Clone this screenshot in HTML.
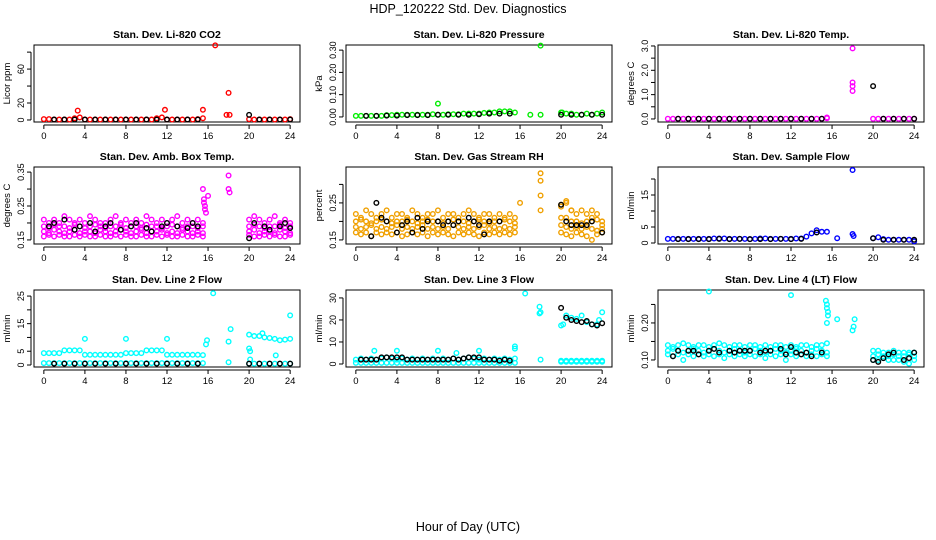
<!DOCTYPE html>
<html><head><meta charset="utf-8">
<style>
body{margin:0;background:#fff}
svg{display:block;font-family:"Liberation Sans",Arial,sans-serif}
</style></head>
<body>
<svg id="c" width="936" height="540">
<text x="468" y="13" text-anchor="middle" font-size="12.5">HDP_120222  Std. Dev. Diagnostics</text>
<text x="468" y="531" text-anchor="middle" font-size="12.5">Hour of Day (UTC)</text>
</svg>
<script>
const hours=[0,0.5,1,1.5,2,2.5,3,3.5,4,4.5,5,5.5,6,6.5,7,7.5,8,8.5,9,9.5,10,10.5,11,11.5,12,12.5,13,13.5,14,14.5,15,15.5,20,20.5,21,21.5,22,22.5,23,23.5,24];
const xTicks=[0,4,8,12,16,20,24];
const blkX=[1,2,3,4,5,6,7,8,9,10,11,12,13,14,15,20,21,22,23,24];

const co2Red=[1,1,.5,.5,.5,.5,2,3,.5,.5,.5,.5,.5,.5,.5,.5,.5,.5,.5,.5,.5,.5,2,3,.5,.5,.5,.5,.5,.5,1,2,1,.5,.5,.5,.5,.5,.5,.5,1];
const co2OutX=[3.3,11.8,15.5,16.7,18,17.8,18.1];
const co2OutY=[11,12,12,88,32,6,6];
const co2Blk=[.5,.5,.5,.5,.5,.5,.5,.5,.5,.5,.5,.5,.5,.5,.5,6,.5,.5,.5,.5];
const presGrn=[.005,.005,.005,.005,.005,.005,.008,.008,.01,.01,.01,.01,.01,.01,.01,.012,.01,.01,.012,.012,.012,.015,.015,.015,.015,.018,.02,.02,.025,.025,.025,.02,.02,.015,.015,.01,.01,.015,.01,.015,.02];
const presOutX=[8,18,17,18,20.1];
const presOutY=[.06,.32,.01,.01,.02];
const presBlk=[.005,.005,.006,.006,.008,.008,.008,.01,.01,.01,.01,.012,.015,.015,.015,.01,.01,.01,.01,.01];
const tmpMag=[.01,.01,.01,.01,.01,.01,.01,.01,.01,.01,.01,.01,.01,.01,.01,.01,.01,.01,.01,.01,.01,.01,.01,.01,.01,.01,.01,.01,.01,.01,.01,.03,.01,.01,.01,.01,.01,.01,.01,.01,.01];
const tmpOutX=[15.5,18,18,18,18];
const tmpOutY=[.06,2.9,1.5,1.35,1.15];
const tmpBlk=[.01,.01,.01,.01,.01,.01,.01,.01,.01,.01,.01,.01,.01,.01,.01,1.35,.01,.01,.01,.01];
const ambC1=[.21,.2,.21,.2,.22,.21,.2,.21,.2,.22,.21,.2,.2,.21,.22,.2,.21,.2,.21,.2,.22,.21,.2,.21,.2,.21,.22,.2,.21,.2,.21,.2,.21,.22,.21,.2,.21,.22,.2,.21,.2];
const ambC2=[.19,.185,.195,.19,.19,.185,.195,.19,.185,.19,.195,.19,.185,.19,.19,.195,.185,.19,.19,.185,.195,.19,.19,.185,.19,.195,.19,.185,.19,.19,.185,.19,.19,.195,.19,.185,.19,.19,.195,.185,.19];
const ambC3=[.175,.17,.18,.175,.17,.175,.18,.17,.175,.175,.17,.18,.175,.17,.175,.18,.175,.17,.175,.18,.17,.175,.175,.18,.17,.175,.17,.18,.175,.17,.175,.17,.175,.18,.17,.175,.175,.17,.18,.175,.17];
const ambC4=[.16,.165,.16,.165,.16,.16,.165,.16,.165,.16,.16,.165,.16,.16,.165,.16,.165,.16,.16,.165,.16,.16,.165,.16,.165,.16,.16,.165,.16,.16,.165,.16,.165,.16,.16,.165,.16,.165,.16,.16,.165];
const ambOutX=[15.5,15.6,15.6,15.7,15.7,15.8,16,18,18,18.1];
const ambOutY=[.3,.27,.26,.25,.24,.23,.28,.34,.30,.29];
const ambBlkX=[0.5,1,2,3,3.5,4.5,5,6,6.5,7.5,8.5,9,10,10.5,11.5,12,13,14,14.5,15,20,20.5,21.5,22,23,23.5,24];
const ambBlkY=[.19,.2,.21,.18,.19,.2,.175,.19,.2,.18,.19,.2,.185,.175,.19,.2,.19,.185,.2,.19,.155,.2,.19,.18,.19,.2,.185];
const rhC1=[.22,.21,.23,.22,.21,.22,.23,.21,.22,.22,.21,.23,.22,.21,.22,.22,.23,.21,.22,.22,.21,.22,.23,.22,.21,.22,.22,.21,.22,.21,.22,.21,.24,.25,.23,.22,.23,.22,.21,.22,.2];
const rhC2=[.2,.205,.2,.195,.2,.205,.2,.195,.2,.2,.205,.2,.195,.2,.205,.2,.2,.195,.2,.205,.2,.2,.195,.2,.205,.2,.195,.2,.2,.205,.2,.195,.21,.21,.2,.2,.195,.2,.2,.205,.19];
const rhC3=[.185,.18,.185,.19,.18,.185,.18,.185,.19,.18,.185,.18,.185,.19,.18,.185,.18,.185,.18,.19,.185,.18,.185,.18,.185,.19,.18,.185,.18,.185,.18,.185,.19,.185,.18,.185,.18,.185,.18,.175,.18];
const rhC4=[.17,.165,.17,.16,.17,.165,.17,.165,.17,.16,.165,.17,.165,.17,.16,.17,.165,.17,.165,.16,.17,.165,.17,.165,.16,.17,.165,.17,.165,.17,.165,.17,.17,.165,.16,.17,.165,.16,.15,.165,.17];
const rhOutX=[16,18,18,18,18,20,20.5,21,23];
const rhOutY=[.25,.33,.31,.27,.23,.245,.255,.23,.23];
const rhBlkX=[1.5,2,2.5,3,4,4.5,5,5.5,6,6.5,7,8,8.5,9,9.5,10,11,11.5,12,12.5,13,14,20,20.5,21,21.5,22,22.5,23,24];
const rhBlkY=[.16,.25,.21,.2,.17,.19,.2,.17,.21,.18,.2,.2,.19,.2,.19,.2,.21,.2,.19,.165,.2,.2,.245,.2,.19,.19,.19,.19,.2,.17];
const sfBlue=[1.3,1.3,1.3,1.3,1.3,1.3,1.3,1.3,1.3,1.4,1.4,1.4,1.3,1.3,1.3,1.3,1.2,1.3,1.4,1.4,1.3,1.3,1.3,1.3,1.3,1.4,1.4,2,3,4,3.5,3.5,1.5,1.8,1.2,1,1,1,1,1,0.5];
const sfOutX=[16.5,18,18,18.1];
const sfOutY=[1.5,22.8,2.8,2.2];
const sfBlkX=[1,2,3,4,5,6,7,8,9,10,11,12,13,14.5,20,21,22,23,24];
const sfBlkY=[1.2,1.2,1.2,1.2,1.3,1.2,1.3,1.2,1.2,1.2,1.3,1.2,1.3,3.3,1.5,1,1,1,1];
const l2Top=[4.3,4.3,4.3,4.3,5.3,5.3,5.3,5.3,3.7,3.7,3.7,3.7,3.7,3.7,3.7,3.7,4.3,4.3,4.3,4.3,5.3,5.3,5.3,5.3,3.7,3.7,3.7,3.7,3.7,3.7,3.7,3.6,11,10.5,10.5,10,9.8,9.5,9,9.2,9.5];
const l2Low=[.7,.7,.7,.7,.7,.7,.7,.7,.7,.7,.7,.7,.7,.7,.7,.7,.7,.7,.7,.7,.7,.7,.7,.7,.7,.7,.7,.7,.7,.7,.7,.7,.5,.5,.5,.5,.5,.5,.5,.5,.5];
const l2OutX=[4,8,12,15.8,15.9,16.5,18,18,18.2,20,20.1,20.1,22.6,24,21.3];
const l2OutY=[9.5,9.5,9.5,7.5,9,26,8.5,1,13,6,5,2,3.5,18,11.5];
const l2Blk=[.5,.5,.5,.5,.5,.5,.5,.5,.5,.5,.5,.5,.5,.5,.5,.5,.5,.5,.5,.5];
const l3Low=[.5,.5,.5,.5,.5,.5,.5,.5,.5,.5,.5,.5,.5,.5,.5,.5,.5,.5,.5,.5,.5,.5,.5,.5,.5,.5,.5,.5,.5,.5,.5,.5,1,1,1,1,1,1,1,1,1];
const l3Mid=[2,2.5,2,2.5,2,2.5,3,2.5,2,2.5,2,2.5,2,2.5,2,2.5,2,2.5,2,2.5,2,2.5,3,2.5,2,2.5,2,2.5,2,2.5,2,2.5,1.5,1.5,1.5,1.5,1.5,1.5,1.5,1.5,1.5];
const l3UpX=[20,20.2,20.5,21,21.5,22,22.5,23,23.5,23.7,24];
const l3UpY=[17.5,18,22,21,20.5,22,19,18,18,20,23.5];
const l3OutX=[1.8,4,8,9.8,12,15.5,15.5,16.5,17.9,17.9,18,18];
const l3OutY=[6,6,6,5,6,8,7,32,26,23,23.5,2];
const l3BlkX=[0.5,1,1.5,2,2.5,3,3.5,4,4.5,5,5.5,6,6.5,7,7.5,8,8.5,9,9.5,10,10.5,11,11.5,12,12.5,13,13.5,14,14.5,15,20,20.5,21,21.5,22,22.5,23,23.5,24];
const l3BlkY=[2,2,2,2,3,3,3,3,3,2,2,2,2,2,2,2,2,2,2.5,2,2.5,3,3,3,2,2,2,1.5,2,1.5,25.5,21,20,19.5,19,19.5,18,17.5,18.5];
const l4C1=[.14,.135,.14,.145,.14,.135,.14,.14,.135,.14,.145,.14,.135,.14,.14,.135,.14,.14,.135,.14,.135,.14,.14,.135,.14,.135,.14,.14,.135,.14,.14,.145,.125,.125,.12,.12,.125,.12,.12,.12,.12];
const l4C2=[.125,.13,.125,.12,.125,.13,.125,.12,.125,.13,.125,.12,.125,.13,.125,.12,.125,.13,.125,.12,.125,.13,.125,.12,.125,.13,.125,.12,.125,.13,.125,.12,.11,.115,.11,.11,.115,.11,.11,.115,.11];
const l4C3=[.115,.11,.115,.1,.115,.11,.115,.11,.115,.11,.115,.105,.115,.11,.115,.11,.115,.11,.115,.105,.115,.11,.115,.1,.115,.11,.115,.11,.115,.11,.115,.11,.1,.1,.105,.1,.1,.1,.095,.09,.1];
const l4OutX=[4,12,15.4,15.5,15.5,15.6,15.6,15.5,16.5,18,18.1,18.2];
const l4OutY=[.285,.275,.26,.25,.24,.23,.22,.2,.21,.18,.19,.21];
const l4BlkX=[0.5,1,2,2.5,3,4,4.5,5,6,6.5,7,7.5,8,9,9.5,10,11,11.5,12,12.5,13,13.5,14,15,20,20.5,21,21.5,22,23,23.5,24];
const l4BlkY=[.11,.125,.125,.125,.115,.125,.13,.12,.125,.12,.125,.125,.125,.12,.125,.125,.13,.115,.135,.12,.115,.12,.11,.12,.1,.095,.105,.115,.12,.1,.105,.12];

const CYAN='#00ffff', MAG='#ff00ff', RED='#ff0000', GRN='#00ee00', BLU='#0000ff', ORG='#f0a000', BLK='#000';
const panels=[
 {t:'Stan. Dev. Li-820 CO2',yl:'Licor ppm',ylim:[-2.39,88.4],ticks:[0,20,40,60,80],lab:['0','20','','60',''],
  s:[[hours,co2Red,RED],[co2OutX,co2OutY,RED],[blkX,co2Blk,BLK]]},
 {t:'Stan. Dev. Li-820 Pressure',yl:'kPa',ylim:[-0.0227,0.323],ticks:[0,.1,.2,.3],lab:['0.00','0.10','0.20','0.30'],
  s:[[hours,presGrn,GRN],[presOutX,presOutY,GRN],[blkX,presBlk,BLK]]},
 {t:'Stan. Dev. Li-820 Temp.',yl:'degrees C',ylim:[-0.125,3.04],ticks:[0,.5,1,1.5,2,2.5,3],lab:['0.0','','1.0','','2.0','','3.0'],
  s:[[hours,tmpMag,MAG],[tmpOutX,tmpOutY,MAG],[blkX,tmpBlk,BLK]]},
 {t:'Stan. Dev. Amb. Box Temp.',yl:'degrees C',ylim:[0.138,0.365],ticks:[.15,.2,.25,.3,.35],lab:['0.15','','0.25','','0.35'],
  s:[[hours,ambC1,MAG],[hours,ambC2,MAG],[hours,ambC3,MAG],[hours,ambC4,MAG],[ambOutX,ambOutY,MAG],[ambBlkX,ambBlkY,BLK]]},
 {t:'Stan. Dev. Gas Stream RH',yl:'percent',ylim:[0.139,0.347],ticks:[.15,.2,.25,.3],lab:['0.15','','0.25',''],
  s:[[hours,rhC1,ORG],[hours,rhC2,ORG],[hours,rhC3,ORG],[hours,rhC4,ORG],[rhOutX,rhOutY,ORG],[rhBlkX,rhBlkY,BLK]]},
 {t:'Stan. Dev. Sample Flow',yl:'ml/min',ylim:[-0.31,23.75],ticks:[0,5,10,15,20],lab:['0','5','','15',''],
  s:[[hours,sfBlue,BLU],[sfOutX,sfOutY,BLU],[sfBlkX,sfBlkY,BLK]]},
 {t:'Stan. Dev. Line 2 Flow',yl:'ml/min',ylim:[-0.72,27.2],ticks:[0,5,10,15,20,25],lab:['0','5','','15','','25'],
  s:[[hours,l2Top,CYAN],[hours,l2Low,CYAN],[l2OutX,l2OutY,CYAN],[blkX,l2Blk,BLK]]},
 {t:'Stan. Dev. Line 3 Flow',yl:'ml/min',ylim:[-1.36,33.6],ticks:[0,10,20,30],lab:['0','10','20','30'],
  s:[[hours,l3Low,CYAN],[hours,l3Mid,CYAN],[l3UpX,l3UpY,CYAN],[l3OutX,l3OutY,CYAN],[l3BlkX,l3BlkY,BLK]]},
 {t:'Stan. Dev. Line 4 (LT) Flow',yl:'ml/min',ylim:[0.081,0.289],ticks:[.1,.15,.2,.25],lab:['0.10','','0.20',''],
  s:[[hours,l4C1,CYAN],[hours,l4C2,CYAN],[hours,l4C3,CYAN],[l4OutX,l4OutY,CYAN],[l4BlkX,l4BlkY,BLK]]}
];
const svg=document.getElementById('c');
const NS='http://www.w3.org/2000/svg';
function mk(tag,attrs,parent){const e=document.createElementNS(NS,tag);for(const k in attrs)e.setAttribute(k,attrs[k]);parent.appendChild(e);return e;}
const lefts=[34,346,658], tops=[45,167,290], W=266, H=77;
panels.forEach((p,i)=>{
 const L=lefts[i%3], T=tops[Math.floor(i/3)];
 const g=mk('g',{},svg);
 
 
 const xs=v=>L+(v+0.96)/25.92*W;
 const ys=v=>T+H-(v-p.ylim[0])/(p.ylim[1]-p.ylim[0])*H;
 const tt=mk('text',{x:L+W/2,y:T-7,'text-anchor':'middle','font-size':'10.5','font-weight':'bold'},g);
 tt.textContent=p.t;
 
 
 const box=mk('rect',{x:L,y:T,width:W,height:H,fill:'none',stroke:'#000','stroke-width':1},g);
 
 
 mk('line',{x1:xs(0),x2:xs(24),y1:T+H+3,y2:T+H+3,stroke:'#000'},g);
 xTicks.forEach(v=>{
  mk('line',{x1:xs(v),x2:xs(v),y1:T+H+3,y2:T+H+7,stroke:'#000'},g);
  const tx=mk('text',{x:xs(v),y:T+H+17,'text-anchor':'middle','font-size':'9.5'},g);
  tx.textContent=v;
  
  
 });
 const yt=p.ticks;
 mk('line',{x1:L-3,x2:L-3,y1:ys(yt[0]),y2:ys(yt[yt.length-1]),stroke:'#000'},g);
 yt.forEach((v,j)=>{
  mk('line',{x1:L-7,x2:L-3,y1:ys(v),y2:ys(v),stroke:'#000'},g);
  if(p.lab[j]){
   const tl=mk('text',{x:L-10,y:ys(v),'text-anchor':'middle','font-size':'9',transform:`rotate(-90 ${L-10} ${ys(v)})`},g);
   tl.textContent=p.lab[j];
   
   
  }
 });
 const yl=mk('text',{x:L-24,y:T+H/2,'text-anchor':'middle','font-size':'9.5',transform:`rotate(-90 ${L-24} ${T+H/2})`},g);
 yl.textContent=p.yl;
 
 
 p.s.forEach(([X,Y,col])=>{
  X.forEach((x,k)=>{
   const c=mk('circle',{cx:xs(x),cy:ys(Y[k]),r:2.3,fill:'none',stroke:col,'stroke-width':1.4},g);
   
   
  });
 });
});
</script>
</body></html>
